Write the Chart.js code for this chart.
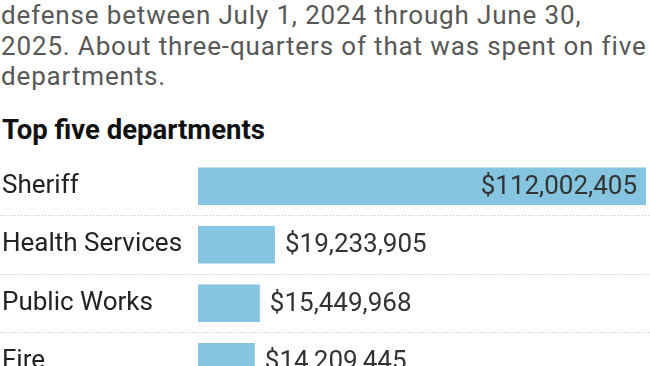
<!DOCTYPE html>
<html>
<head>
<meta charset="utf-8">
<script src="https://cdn.jsdelivr.net/npm/chart.js@4"></script>
<style>
  body { margin: 0; width: 650px; height: 366px; overflow: hidden; background: #fff; position: relative; font-family: Roboto, sans-serif; }
  #intro { position: absolute; left: 1px; top: 0; font-size: 26px; line-height: 30.5px; color: #585858; letter-spacing: 0.85px; white-space: nowrap; }
  #title { position: absolute; left: 2px; top: 115px; font-size: 27.5px; line-height: 30px; font-weight: bold; color: #111; white-space: nowrap; }
  #wrap { position: absolute; left: 0; top: 157px; width: 650px; height: 234px; }
</style>
</head>
<body>
<div id="intro">defense between July 1, 2024 through June 30,<br>2025. About three-quarters of that was spent on five<br>departments.</div>
<div id="title">Top five departments</div>
<div id="wrap"><canvas id="myChart"></canvas></div>
<script>
let departments = ['Sheriff', 'Health Services', 'Public Works', 'Fire'];
let spending = [112002405, 19233905, 15449968, 14209445];
let barColor = '#85c5e0';

let money = (v) => '$' + v.toLocaleString('en-US');

// value labels: inside the bar when it fits, otherwise just after it
let valueLabels = {
  id: 'valueLabels',
  afterDatasetsDraw(chart) {
    let ctx = chart.ctx;
    let meta = chart.getDatasetMeta(0);
    ctx.save();
    ctx.font = '26px Roboto, sans-serif';
    ctx.fillStyle = '#333';
    ctx.textBaseline = 'middle';
    meta.data.forEach((bar, i) => {
      let text = money(spending[i]);
      let w = ctx.measureText(text).width;
      let barW = bar.x - bar.base;
      if (w + 24 < barW) {
        ctx.textAlign = 'right';
        ctx.fillText(text, bar.x - 9, bar.y + 1);
      } else {
        ctx.textAlign = 'left';
        ctx.fillText(text, bar.x + 10, bar.y + 1);
      }
    });
    ctx.restore();
  }
};

let ctx = document.getElementById('myChart').getContext('2d');
let myChart = new Chart(ctx, {
  type: 'bar',
  data: {
    labels: departments,
    datasets: [{
      data: spending,
      backgroundColor: barColor,
      borderWidth: 0,
      barPercentage: 0.64,
      categoryPercentage: 1
    }]
  },
  options: {
    indexAxis: 'y',
    responsive: true,
    maintainAspectRatio: false,
    animation: false,
    layout: { padding: { left: 2 } },
    plugins: {
      legend: { display: false },
      tooltip: { enabled: false }
    },
    scales: {
      x: {
        display: false,
        min: 0,
        max: 113000000
      },
      y: {
        afterFit: (scale) => {
          scale.width = 196;
          scale.paddingTop = 0;
          scale.paddingBottom = 0;
        },
        border: { display: false, dash: [1, 2] },
        grid: {
          offset: true,
          color: (c) => c.index === 0 ? 'rgba(0,0,0,0)' : '#c4c4c4',
          tickLength: 198,
          tickBorderDash: [1, 2]
        },
        ticks: {
          crossAlign: 'far',
          padding: 0,
          color: '#222',
          font: { family: 'Roboto, sans-serif', size: 26 }
        }
      }
    }
  },
  plugins: [valueLabels]
});
</script>
</body>
</html>
